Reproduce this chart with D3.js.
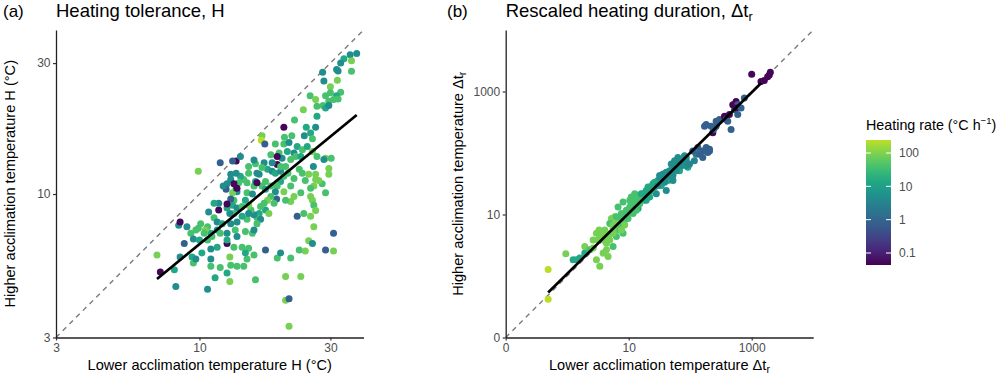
<!DOCTYPE html>
<html>
<head>
<meta charset="utf-8">
<script src="https://cdn.jsdelivr.net/npm/d3@7"></script>
<style>
  body { margin: 0; background: #fff; }
  text { font-family: "Liberation Sans", Arial, sans-serif; }
</style>
</head>
<body>
<div id="chart"></div>
<script>
// [lower acclimation H, higher acclimation H, heating rate]
const tolerancePoints = [
  [37.4,32.5,4.8],[35.4,32.2,4.8],[33.6,31.1,14],[35.8,30.6,85],[32.7,30.0,4.8],[31.6,28.4,4.8],
  [32.0,28.1,4.8],[35.8,28.0,40],[31.8,26.0,85],[28.1,27.8,4.8],[28.4,25.8,4.8],[30.0,24.6,85],
  [32.7,23.5,40],[30.0,23.4,40],[28.8,22.8,40],[31.6,22.8,14],[30.8,22.1,40],[29.6,21.8,40],
  [32.0,22.2,40],[25.3,22.8,40],[26.5,22.1,85],[28.2,21.0,40],[28.8,20.6,14],[26.8,20.9,40],
  [29.6,21.0,4.8],[23.9,20.3,85],[26.8,19.2,14],[22.2,18.6,40],[24.5,17.5,14],[26.5,17.5,4.8],
  [24.1,16.3,4.8],[25.4,16.7,14],[25.8,15.9,40],[20.3,17.5,0.05],[21.7,16.3,40],[16.9,16.3,85],
  [16.8,15.7,240],[17.3,15.2,0.8],[20.4,16.1,40],[20.3,15.2,40],[21.2,15.4,4.8],[22.7,14.9,14],
  [23.7,14.5,40],[22.1,14.1,4.8],[20.9,14.3,14],[18.9,15.2,40],[19.5,14.1,40],[18.2,13.9,40],
  [20.0,13.5,4.8],[21.5,13.35,40],[22.4,13.7,40],[23.4,13.7,14],[24.7,14.9,14],[25.8,14.3,85],
  [26.8,13.7,40],[28.8,13.5,85],[28.4,13.35,4.8],[30.2,13.5,40],[26.0,12.6,4.8],[26.5,11.8,85],
  [29.6,12.4,85],[29.6,11.8,85],[28.0,10.9,40],[27.2,11.2,85],[26.5,11.3,85],[26.1,10.7,85],
  [28.8,10.1,40],[25.4,10.5,40],[25.4,9.8,85],[25.8,9.5,85],[26.1,9.1,40],[26.5,8.7,85],
  [24.0,8.5,40],[25.4,8.3,85],[22.7,8.3,0.8],[23.4,10.1,40],[22.1,9.8,85],[21.5,9.4,85],
  [21.5,10.7,40],[22.1,11.4,40],[21.0,11.9,40],[23.7,11.9,40],[25.0,11.8,85],[24.3,11.2,40],
  [23.1,12.3,40],[19.2,13.7,0.05],[19.2,12.8,0.05],[18.4,13.0,4.8],[17.2,13.0,4.8],[17.7,12.3,14],
  [18.4,12.1,4.8],[18.9,11.9,14],[19.75,12.1,4.8],[19.75,12.6,40],[20.6,12.6,40],[20.3,11.6,40],
  [19.75,11.1,14],[19.2,10.7,40],[18.9,10.2,4.8],[19.1,9.6,0.8],[20.3,10.2,85],[20.6,9.5,40],
  [18.7,9.25,40],[18.2,9.8,40],[17.7,9.5,85],[17.2,9.25,40],[17.4,8.75,14],[17.9,8.5,85],
  [16.7,9.0,40],[16.5,8.5,14],[16.2,8.2,40],[16.7,8.1,4.8],[15.8,8.4,4.8],[15.4,8.75,40],
  [15.1,9.1,85],[14.7,9.5,14],[14.9,10.1,40],[15.6,10.0,4.8],[15.8,10.7,40],[16.0,11.1,14],
  [16.9,10.7,40],[17.4,10.4,14],[18.2,10.7,40],[17.4,11.1,40],[16.5,11.8,4.8],[16.2,11.9,4.8],
  [16.9,12.5,40],[16.0,12.9,40],[15.1,12.6,40],[15.1,11.9,40],[14.5,11.3,40],[14.9,11.0,40],
  [14.1,11.6,14],[13.6,11.9,4.8],[13.9,11.0,40],[13.7,10.2,4.8],[13.2,10.1,85],[13.35,9.5,40],
  [13.2,9.1,14],[13.7,8.9,4.8],[13.35,8.5,40],[12.9,8.5,4.8],[12.6,8.9,14],[13.0,9.6,0.8],
  [13.6,10.5,14],[13.0,11.3,4.8],[13.0,11.8,4.8],[12.6,10.9,4.8],[12.5,10.4,0.8],[12.2,10.7,4.8],
  [13.35,10.9,0.05],[13.7,10.5,0.05],[13.6,13.2,0.05],[13.2,13.2,0.8],[11.9,13.0,0.8],[16.2,11.0,0.05],
  [11.75,8.75,0.05],[12.6,9.2,0.05],[11.75,9.25,4.8],[11.3,9.25,14],[10.8,8.6,4.8],[11.3,8.2,40],
  [11.6,7.9,4.8],[12.1,7.8,14],[13.0,7.8,4.8],[13.7,7.9,4.8],[13.5,7.4,40],[13.7,7.0,4.8],
  [14.7,7.3,40],[15.6,7.2,40],[15.8,7.4,4.8],[16.2,7.8,40],[14.9,8.1,40],[14.3,8.3,14],
  [15.1,8.5,4.8],[14.3,9.0,40],[11.6,7.4,4.8],[11.0,7.2,14],[10.7,7.6,40],[10.5,7.4,85],
  [10.1,7.8,40],[9.9,7.5,40],[9.7,7.4,40],[9.3,7.2,40],[9.0,7.6,4.8],[8.4,7.7,4.8],
  [8.5,7.9,0.05],[9.9,12.1,85],[9.5,6.85,4.8],[10.0,6.8,14],[10.4,7.2,40],[10.7,6.8,40],
  [11.1,7.0,40],[12.6,7.2,4.8],[12.6,6.6,0.05],[12.6,6.8,14],[11.9,7.2,40],[13.35,6.4,40],
  [11.6,6.4,14],[11.0,6.3,4.8],[11.0,5.8,4.8],[10.2,6.1,14],[9.4,5.9,14],[9.5,5.6,40],
  [8.8,6.6,0.8],[8.5,5.9,4.8],[8.1,5.3,14],[7.0,6.0,85],[7.2,5.2,0.05],[8.2,4.6,4.8],
  [10.7,4.5,4.8],[9.7,5.8,4.8],[11.0,5.45,40],[11.9,5.4,40],[12.9,5.9,85],[13.0,5.5,40],
  [13.7,5.45,40],[14.5,5.45,40],[14.9,5.8,40],[14.3,6.4,40],[15.1,6.35,40],[17.4,6.25,0.8],
  [15.8,6.0,40],[14.7,6.1,14],[11.4,4.95,14],[12.9,4.8,85],[16.0,4.87,40],[19.2,5.85,40],
  [19.75,6.1,4.8],[20.6,5.0,85],[21.5,5.85,40],[23.1,6.25,40],[25.0,6.75,85],[24.3,6.2,85],
  [25.8,6.6,4.8],[26.1,7.6,85],[28.8,6.25,0.8],[30.8,7.2,0.8],[30.8,6.2,85],[23.4,5.0,85],
  [20.6,4.1,85],[21.2,4.15,0.8],[21.2,3.3,85],[12.6,5.15,14],[15.8,13.3,4.8],[14.1,13.7,4.8]
];

// [lower acclimation Δtr, higher acclimation Δtr, heating rate]
const durationPoints = [
  [0.95,2.30,85],[1.25,1.84,14],[1.42,1.84,14],[1.60,1.96,14],[1.93,2.36,14],[1.93,3.02,85],
  [2.33,2.67,40],[2.64,2.84,85],[3.39,1.44,85],[2.99,1.84,85],[3.30,5.60,85],[2.99,4.95,85],
  [3.18,3.86,85],[3.39,4.37,85],[3.84,4.95,85],[2.64,3.86,85],[3.84,3.86,85],[4.35,3.42,85],
  [4.92,3.86,85],[4.35,2.67,85],[4.62,2.08,85],[3.84,2.36,85],[5.57,3.02,40],[5.24,4.95,40],
  [5.93,5.60,85],[6.31,4.37,40],[7.14,5.60,40],[7.60,6.33,40],[8.09,4.95,40],[6.71,7.62,40],
  [5.24,8.62,85],[4.92,7.16,40],[8.61,8.11,40],[9.16,9.17,40],[9.75,10.4,40],[6.71,13.3,40],
  [8.09,16.0,40],[10.4,17.0,40],[11.8,15.0,14],[11.0,11.7,40],[14.2,12.5,14],[15.1,15.0,40],
  [16.0,18.1,40],[14.2,20.5,40],[12.5,21.8,40],[17.1,21.8,14],[19.3,24.6,14],[21.9,27.9,40],
  [24.8,26.2,14],[18.2,17.0,14],[20.6,19.2,14],[24.8,31.5,14],[28.1,31.5,14],[29.9,35.6,4.8],
  [31.8,42.9,4.8],[36.1,45.7,4.8],[40.8,48.6,4.8],[46.2,51.6,4.8],[52.4,58.4,4.8],[59.3,62.2,4.8],
  [55.7,74.8,4.8],[63.1,84.7,4.8],[67.1,66.1,4.8],[76.0,79.6,14],[49.2,66.1,4.8],[43.5,35.6,14],
  [40.8,24.6,4.8],[28.1,21.8,4.8],[52.4,35.6,4.8],[67.1,51.6,14],[91.6,58.4,14],[86.1,84.7,4.8],
  [15.1,17.0,40],[13.3,14.1,40],[9.16,11.7,40],[7.60,10.4,40],[5.93,9.17,85],[5.57,6.73,85],
  [6.31,9.17,40],[5.57,4.95,85],[4.62,4.37,85],[4.08,5.60,85],[7.14,8.11,40],[8.61,10.4,40],
  [10.4,13.3,40],[12.5,17.0,40],[18.2,21.8,14],[21.9,23.2,14],[26.4,27.9,14],[31.8,33.5,4.8],
  [38.4,40.4,4.8],[46.2,42.9,4.8],[55.7,51.6,4.8],[63.1,58.4,14],[71.5,62.2,4.8],[33.9,29.6,14],
  [19.3,19.2,14],[11.0,15.0,40],[17.1,18.1,40],
  [11.0,19.2,40],[13.3,17.0,40],[16.0,21.8,14],[20.6,27.9,14],[23.3,24.6,14],[26.4,33.5,14],
  [29.9,29.6,4.8],[33.9,37.9,4.8],[38.4,33.5,4.8],[43.5,45.7,4.8],[49.2,48.6,4.8],[52.4,42.9,4.8],
  [59.3,51.6,4.8],[71.5,74.8,4.8],[86.1,62.2,4.8],[7.6,5.6,85],[8.61,6.73,85],[4.35,4.95,85],
  [3.6,4.1,85],[5.57,5.9,85],[6.31,7.16,85],[9.75,8.62,40],[11.8,10.4,40],[13.3,11.7,40],
  [8.09,9.17,40],[19.3,17.0,14],[21.9,19.2,14],
  [86.1,74.8,4.8],[80.9,90.0,4.8],[97.5,66.1,3.5],[117,74.8,3.5],[125,95.8,2],
  [110,108,0.8],[133,123,0.8],[142,95.8,0.8],[160,108,0.8],[182,123,0.8],[193,102,0.8],
  [206,115,0.8],[160,84.7,0.8],[206,108,0.8],[171,273,0.8],[219,273,0.8],[182,291,0.8],
  [248,257,0.8],[264,273,0.8],[233,214,0.05],[239,242,0.8],[264,329,0.8],[299,350,0.8],
  [361,396,0.05],[384,350,0.8],[408,329,0.8],[462,242,0.8],[434,421,0.05],[524,507,0.8],
  [492,610,0.05],[557,690,0.05],[593,610,0.8],[557,539,0.05],[593,421,0.8],[671,539,0.8],
  [760,781,0.8],[1000,1900,0.05],[1932,1854,0.05],[2009,2047,0.05],[1816,1743,0.05],
  [1603,1503,0.05],[1416,1448,0.05],
  [0.49,1.27,240],[0.49,0.42,240]
];

const toleranceTicks = [3, 10, 30];
const durationTicks = [0.1, 10, 1000];
const rateTicks = [0.1, 1, 10, 100];

// fitted lines, [lower, higher] at both ends
const toleranceFit = [[7.0, 4.9], [37.4, 19.4]];
const durationFit = [[0.49, 0.54], [1416, 1362]];

const width = 1000, height = 374;
const panelSize = 307.5;

const svg = d3.select("#chart").append("svg")
    .attr("width", width)
    .attr("height", height);

// colour scale: log, viridis stopping short of the bright yellow end
const rateDomain = [0.0436, 246];
const viridisEnd = 0.9;
const palette = t => d3.interpolateViridis(t * viridisEnd);
const color = d3.scaleSequentialLog(palette).domain(rateDomain);

function drawPanel(opts) {
    const g = svg.append("g").attr("transform", `translate(${opts.left},${opts.top})`);

    const x = d3.scaleLog().domain(opts.domain).range([0, panelSize]);
    const y = d3.scaleLog().domain(opts.domain).range([panelSize, 0]);

    // 1:1 line
    g.append("line")
        .attr("x1", x(opts.domain[0])).attr("y1", y(opts.domain[0]))
        .attr("x2", x(opts.domain[1])).attr("y2", y(opts.domain[1]))
        .attr("stroke", "#7a7a7a")
        .attr("stroke-width", 1.4)
        .attr("stroke-dasharray", "5,4.5");

    g.selectAll("circle.pt")
        .data(opts.points)
        .enter()
        .append("circle")
        .attr("class", "pt")
        .attr("cx", d => x(d[0]))
        .attr("cy", d => y(d[1]))
        .attr("r", 3.5)
        .attr("fill", d => color(d[2]));

    g.append("path")
        .datum(opts.fit)
        .attr("d", d3.line().x(d => x(d[0])).y(d => y(d[1])))
        .attr("stroke", "#000")
        .attr("stroke-width", 2.7)
        .attr("fill", "none");

    const xAxis = g.append("g")
        .attr("transform", `translate(0,${panelSize})`)
        .call(d3.axisBottom(x).tickValues(opts.ticks).tickFormat(opts.fmt)
            .tickSize(3).tickSizeOuter(0).tickPadding(2.5));
    const yAxis = g.append("g")
        .call(d3.axisLeft(y).tickValues(opts.ticks).tickFormat(opts.fmt)
            .tickSize(3).tickSizeOuter(0).tickPadding(2.5));

    [xAxis, yAxis].forEach(a => {
        a.select(".domain").attr("stroke", "#222").attr("stroke-width", 1.3);
        a.selectAll(".tick line").attr("stroke", "#333").attr("stroke-width", 1.2);
        a.selectAll(".tick text")
            .attr("fill", "#4d4d4d")
            .style("font-size", "12px")
            .style("font-family", "'Liberation Sans', Arial, sans-serif");
    });

    // panel letter and title
    svg.append("text")
        .attr("x", opts.letterX).attr("y", 17)
        .style("font-size", "17px")
        .text(opts.letter);
    const title = svg.append("text")
        .attr("x", opts.left).attr("y", 17)
        .style("font-size", "18.5px")
        .text(opts.title);
    if (opts.sub) {
        title.append("tspan").attr("dy", 4).style("font-size", "12.5px").text(opts.sub);
    }

    // axis titles
    const xt = g.append("text")
        .attr("x", panelSize / 2)
        .attr("y", panelSize + 32)
        .attr("text-anchor", "middle")
        .style("font-size", "14.6px")
        .text(opts.xTitle);
    if (opts.sub) xt.append("tspan").attr("dy", 3).style("font-size", "10.5px").text(opts.sub);

    const yt = g.append("text")
        .attr("transform", `translate(${opts.yTitleX},${panelSize / 2}) rotate(-90)`)
        .attr("text-anchor", "middle")
        .style("font-size", "14.6px")
        .text(opts.yTitle);
    if (opts.sub) yt.append("tspan").attr("dy", 3).style("font-size", "10.5px").text(opts.sub);
}

drawPanel({
    left: 56, top: 30,
    domain: [3, 39.6],
    points: tolerancePoints,
    fit: toleranceFit,
    ticks: toleranceTicks,
    fmt: d3.format("d"),
    letter: "(a)", letterX: 3,
    title: "Heating tolerance, H",
    xTitle: "Lower acclimation temperature H (°C)",
    yTitle: "Higher acclimation temperature H (°C)",
    yTitleX: -41.5
});

drawPanel({
    left: 505.7, top: 30,
    domain: [0.1, 10000],
    points: durationPoints,
    fit: durationFit,
    ticks: durationTicks,
    fmt: d => d < 1 ? "0" : d3.format("d")(d),
    letter: "(b)", letterX: 447,
    title: "Rescaled heating duration, Δt",
    sub: "r",
    xTitle: "Lower acclimation temperature Δt",
    yTitle: "Higher acclimation temperature Δt",
    yTitleX: -42.5
});

// legend
const legend = svg.append("g").attr("transform", "translate(866,140)");
const barH = 125, barW = 25;
const ly = d3.scaleLog().domain(rateDomain).range([barH, 0]);

const defs = svg.append("defs");
const grad = defs.append("linearGradient")
    .attr("id", "rateGrad")
    .attr("x1", 0).attr("y1", 1).attr("x2", 0).attr("y2", 0);
d3.range(0, 1.0001, 0.05).forEach(t => {
    grad.append("stop")
        .attr("offset", t)
        .attr("stop-color", palette(t));
});
legend.append("rect")
    .attr("width", barW).attr("height", barH)
    .attr("fill", "url(#rateGrad)");

rateTicks.forEach(v => {
    legend.append("line")
        .attr("x1", 0).attr("x2", 5)
        .attr("y1", ly(v)).attr("y2", ly(v))
        .attr("stroke", "#fff").attr("stroke-width", 1);
    legend.append("line")
        .attr("x1", barW - 5).attr("x2", barW)
        .attr("y1", ly(v)).attr("y2", ly(v))
        .attr("stroke", "#fff").attr("stroke-width", 1);
    legend.append("text")
        .attr("x", barW + 8)
        .attr("y", ly(v))
        .attr("dy", "0.35em")
        .attr("fill", "#4d4d4d")
        .style("font-size", "12px")
        .text(v);
});

const lt = legend.append("text")
    .attr("x", 0).attr("y", -10)
    .style("font-size", "14.3px")
    .text("Heating rate (°C h");
lt.append("tspan").attr("dy", -6).style("font-size", "9.5px").text("−1");
lt.append("tspan").attr("dy", 6).text(")");
</script>
</body>
</html>
